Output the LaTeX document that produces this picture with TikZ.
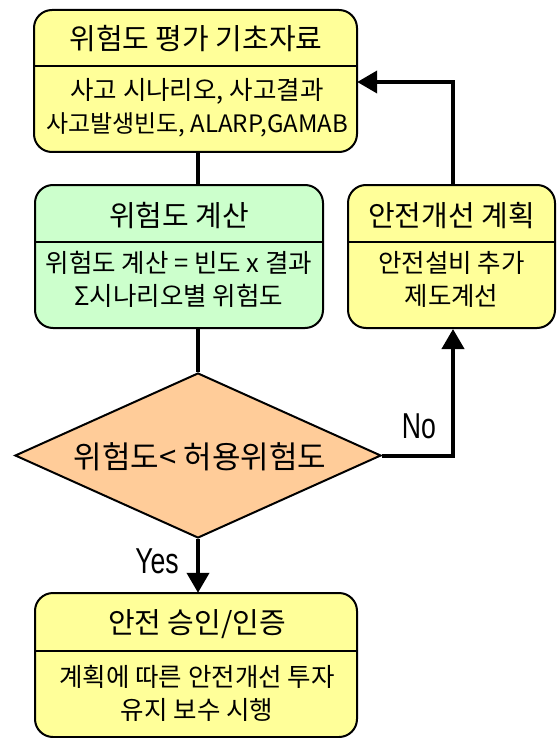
\documentclass[tikz,border=0pt]{standalone}
\usepackage{fontspec}
\setmainfont{Noto Sans CJK KR}
\newfontfamily\latinfont{Liberation Sans}
\usetikzlibrary{arrows.meta,shapes.geometric}
\definecolor{boxyellow}{HTML}{FFFF99}
\definecolor{boxgreen}{HTML}{CCFFCC}
\definecolor{boxorange}{HTML}{FFCC99}
\tikzset{
  panel/.style={draw=black,line width=2pt,rounded corners=18pt,inner sep=0pt},
  titletext/.style={font=\fontsize{29}{32}\selectfont,inner sep=0pt,anchor=center},
  bigtext/.style={font=\fontsize{31}{34}\selectfont,inner sep=0pt,anchor=center},
  bodytext/.style={font=\fontsize{25.5}{33}\selectfont,inner sep=0pt,align=center,anchor=center},
  divider/.style={line width=1.6pt},
  flow/.style={line width=4pt,-{Triangle[width=22pt,length=20pt]}},
  plain/.style={line width=4pt},
  yesno/.style={font=\latinfont\fontsize{36}{38}\selectfont,xscale=0.74,inner sep=0pt}
}
\begin{document}
\begin{tikzpicture}[x=1pt,y=-1pt]
\useasboundingbox (0,0) rectangle (557,738);
% boxes
\draw[panel,fill=boxyellow] (34,10) rectangle (357,152);
\node[minimum width=323pt,minimum height=142pt] (Abox) at (195.5,81) {};
\draw[divider] (Abox.west |- 0,66) -- (Abox.east |- 0,66);
\node[titletext] (Atitle) at (196,39) {위험도 평가 기초자료};
\node[bodytext] (Abody) at (197,108) {사고 시나리오, 사고결과\\{\fontsize{24}{33}\selectfont 사고발생빈도, ALARP,GAMAB}};

\draw[panel,fill=boxgreen] (35,185) rectangle (323,328);
\node[minimum width=288pt,minimum height=143pt] (Bbox) at (179,256.5) {};
\draw[divider] (Bbox.west |- 0,242) -- (Bbox.east |- 0,242);
\node[titletext] (Btitle) at (179,216) {위험도 계산};
\node[bodytext] (Bbody) at (179,279.5) {위험도 계산 = 빈도 x 결과\\Σ시나리오별 위험도};

\draw[panel,fill=boxyellow] (348,185) rectangle (555,328);
\node[minimum width=207pt,minimum height=143pt] (Cbox) at (451.5,256.5) {};
\draw[divider] (Cbox.west |- 0,242) -- (Cbox.east |- 0,242);
\node[titletext] (Ctitle) at (451.5,216) {안전개선 계획};
\node[bodytext] (Cbody) at (451.5,279.5) {안전설비 추가\\제도계선};

\node[draw=black,line width=2pt,fill=boxorange,diamond,aspect=2.2,
      minimum width=366pt,minimum height=165pt,inner sep=0pt] (D) at (198,455.5) {};
\node[bigtext] (Dtext) at (200,457) {위험도< 허용위험도};

\draw[panel,fill=boxyellow] (35,593) rectangle (357,737);
\node[minimum width=322pt,minimum height=144pt] (Ebox) at (196,665) {};
\draw[divider] (Ebox.west |- 0,651) -- (Ebox.east |- 0,651);
\node[titletext] (Etitle) at (197,624) {안전 승인/인증};
\node[bodytext] (Ebody) at (197,693) {계획에 따른 안전개선 투자\\유지 보수 시행};

% connectors
\coordinate (abot) at (198,152);
\coordinate (btop) at (198,185);
\coordinate (bbot) at (198,328);
\draw[plain] (abot) -- (btop);
\draw[plain] (bbot) -- (D.north);
\draw[flow] (D.south) -- (D.south |- Ebox.north);
\coordinate (noturn) at (453,455.5);
\coordinate (cbot) at (453,329);
\draw[flow] (D.east) -- (noturn) -- (cbot);
\coordinate (ctop) at (453,185);
\coordinate (upturn) at (453,82);
\draw[flow] (ctop) -- (upturn) -- (upturn -| Abox.east);
\node[yesno] (yes) at (157,561) {Yes};
\node[yesno] (no) at (419,426) {No};
\end{tikzpicture}
\end{document}
